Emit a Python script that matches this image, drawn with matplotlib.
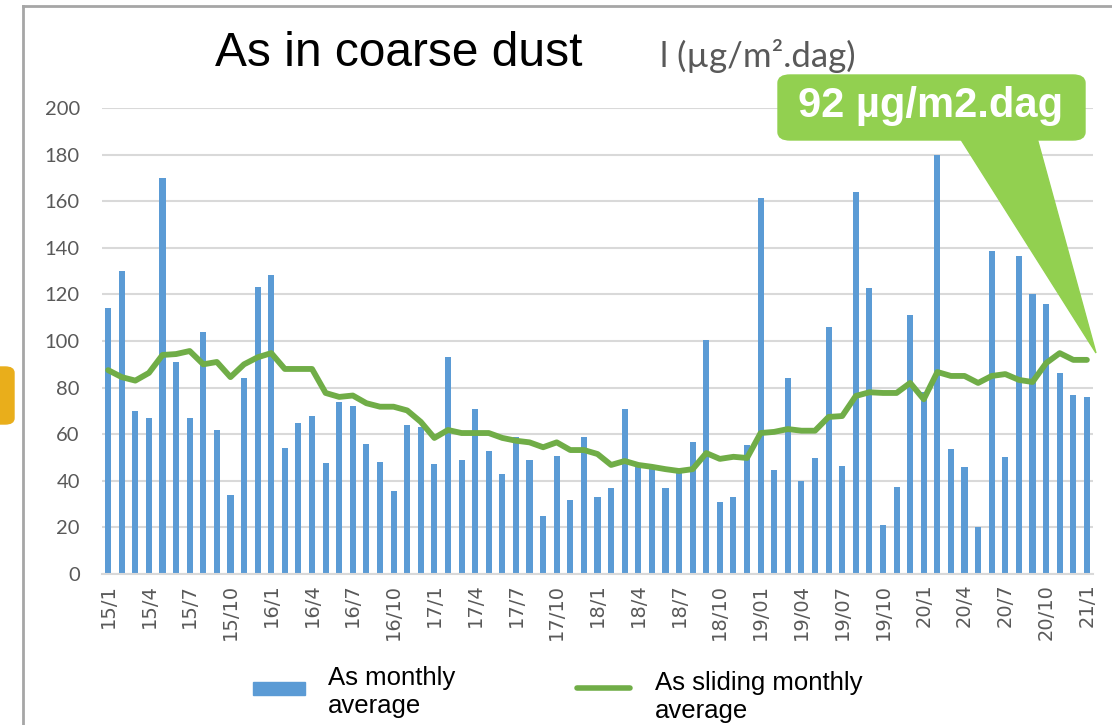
import numpy as np
import matplotlib.pyplot as plt
from matplotlib.patches import FancyBboxPatch, Polygon
from matplotlib.lines import Line2D

# maanden 15/1 .. 21/1
labels = ["15/1", "15/4", "15/7", "15/10", "16/1", "16/4", "16/7", "16/10",
          "17/1", "17/4", "17/7", "17/10", "18/1", "18/4", "18/7", "18/10",
          "19/01", "19/04", "19/07", "19/10", "20/1", "20/4", "20/7", "20/10", "21/1"]

monthly = [114, 130, 70, 67, 170, 91, 67, 104, 62, 34, 84, 123,
           128.5, 54, 65, 68, 47.5, 74, 72, 56, 48, 35.5, 64, 63,
           47, 93, 49, 70.8, 53, 43, 59, 49, 25, 50.6, 31.7, 59,
           33, 37, 70.8, 46, 46, 37, 44, 56.7, 100.4, 31, 33, 55.3,
           161.3, 44.6, 84, 40, 49.8, 106, 46.4, 164, 122.7, 21, 37.3, 111,
           78, 180, 53.6, 45.8, 20.3, 138.6, 50.3, 136.5, 120, 116, 86.3, 76.8,
           76]

sliding = [87.5, 84.5, 83, 86.3, 94, 94.4, 95.7, 90, 91, 84.5, 90, 93,
           94.8, 88, 88, 88, 77.7, 76, 76.6, 73.3, 71.8, 71.8, 70.2, 65.3,
           58.4, 61.8, 60.5, 60.5, 60.5, 58.4, 57.2, 56.5, 54.4, 56.5, 53.2, 53.2,
           51.5, 46.8, 48.5, 46.8, 46, 45, 44.2, 45, 51.9, 49.4, 50.3, 49.8,
           60.5, 61, 62.2, 61.5, 61.5, 67.4, 67.8, 76.4, 78, 77.7, 77.7, 82,
           75, 86.7, 85, 85, 82, 85, 85.8, 83.3, 82.4, 90.5, 94.8, 91.9,
           91.9]

x = np.arange(len(monthly))

W, H = 1112, 725
fig = plt.figure(figsize=(W / 100, H / 100), dpi=100)
ax = fig.add_axes([102 / W, 1 - 574 / H, (1093 - 102) / W, (574 - 108) / H])

ax.bar(x, monthly, width=0.45, color="#5B9BD5", zorder=2)
ax.plot(x, sliding, color="#70AD47", linewidth=4.2, zorder=3, solid_capstyle="round")

ax.set_xlim(-0.45, 72.45)
ax.set_ylim(0, 200)
ax.set_yticks(np.arange(0, 201, 20))
ax.set_xticks(x[::3])
ax.set_xticklabels(labels, rotation=90, family="DejaVu Sans", fontsize=14, color="#595959")
ax.tick_params(axis="y", labelsize=14.5, labelcolor="#595959", length=0, pad=16)
ax.tick_params(axis="x", length=0, pad=7)
for t in ax.get_yticklabels():
    t.set_family("Lato")
ax.grid(axis="y", color="#D9D9D9", linewidth=1.5, zorder=0)
for s in ["top", "right", "left"]:
    ax.spines[s].set_visible(False)
ax.spines["bottom"].set_color("#D9D9D9")
ax.spines["bottom"].set_linewidth(1.5)

# kader van de grafiek
fig.add_artist(Line2D([23 / W, 23 / W], [0, 1 - 6 / H], transform=fig.transFigure, color="#A6A6A6", lw=2))
fig.add_artist(Line2D([23 / W, 1], [1 - 6 / H, 1 - 6 / H], transform=fig.transFigure, color="#A6A6A6", lw=2))

# titel
fig.text(215 / W, 1 - 54 / H, "As in coarse dust", family="Liberation Sans",
         fontsize=34.5, color="black", va="center", ha="left")
fig.text(660 / W, 1 - 56 / H, "l (µg/m².dag)", family="Lato", fontsize=25,
         color="#595959", va="center", ha="left")

# oranje blokje links
fig.add_artist(FancyBboxPatch((-10 / W, 1 - 424 / H), 24 / W, 57 / H,
                              boxstyle="round,pad=0,rounding_size=0.008",
                              transform=fig.transFigure, color="#E9AE1B"))

# callout
fig.add_artist(Polygon([(960 / W, 1 - 138 / H), (1037 / W, 1 - 138 / H), (1096 / W, 1 - 353 / H)],
                       closed=True, transform=fig.transFigure, color="#92D050", zorder=5))
fig.add_artist(FancyBboxPatch((778 / W, 1 - 140 / H), (1085 - 778) / W, 65 / H,
                              boxstyle="round,pad=0,rounding_size=0.011",
                              transform=fig.transFigure, color="#92D050", zorder=5))
fig.text(931 / W, 1 - 106 / H, "92 µg/m2.dag", fontsize=30, fontweight="bold",
         family="Liberation Sans", color="white", ha="center", va="center", zorder=6)

# legenda
fig.add_artist(FancyBboxPatch((253 / W, 1 - 695 / H), 52 / W, 13 / H, boxstyle="square,pad=0",
                              transform=fig.transFigure, color="#5B9BD5"))
fig.text(328 / W, 1 - 692 / H, "As monthly\naverage", family="Liberation Sans",
         fontsize=18.5, va="center", ha="left", linespacing=1.2)
fig.add_artist(Line2D([577 / W, 630 / W], [1 - 688 / H, 1 - 688 / H], transform=fig.transFigure,
                      color="#70AD47", lw=4, solid_capstyle="round"))
fig.text(655 / W, 1 - 697 / H, "As sliding monthly\naverage", family="Liberation Sans",
         fontsize=18.5, va="center", ha="left", linespacing=1.2)

fig.savefig("out.png", dpi=100)
